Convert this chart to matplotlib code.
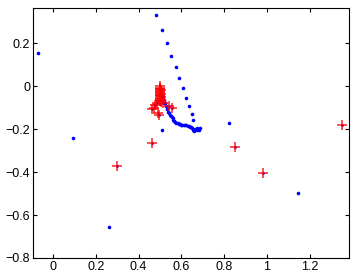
import matplotlib
matplotlib.use("Agg")
import matplotlib.pyplot as plt

# blue dots: scattered points
dots_x = [-0.072, 0.092, 0.263, 1.146, 0.824, 0.508,
          0.480, 0.508, 0.531, 0.553, 0.575, 0.590, 0.607, 0.623, 0.636, 0.648, 0.656]
dots_y = [0.155, -0.243, -0.657, -0.496, -0.172, -0.206,
          0.329, 0.262, 0.199, 0.141, 0.087, 0.036, -0.011, -0.054, -0.093, -0.129, -0.158]

# blue dots: dense curve below the red column
curve_x = [0.515, 0.519, 0.523, 0.528, 0.533, 0.537, 0.542, 0.547, 0.551, 0.555, 0.559,
           0.563, 0.567, 0.570, 0.576, 0.582, 0.588, 0.593, 0.599, 0.605, 0.611, 0.617,
           0.623, 0.629, 0.635, 0.640, 0.645, 0.650, 0.656, 0.664, 0.671, 0.678, 0.685,
           0.673, 0.681, 0.660]
curve_y = [-0.052, -0.065, -0.079, -0.093, -0.107, -0.120, -0.127, -0.133, -0.138, -0.143, -0.150,
           -0.156, -0.161, -0.166, -0.170, -0.173, -0.176, -0.178, -0.179, -0.180, -0.180, -0.181,
           -0.183, -0.185, -0.187, -0.189, -0.192, -0.195, -0.205, -0.200, -0.193, -0.198, -0.194,
           -0.205, -0.203, -0.208]

# red crosses
cross_x = [0.300, 0.464, 0.850, 0.980, 1.352,
           0.461, 0.477, 0.492, 0.497, 0.554, 0.544, 0.516, 0.470, 0.486, 0.505,
           0.502, 0.502, 0.501, 0.502, 0.503, 0.502, 0.501, 0.502, 0.503, 0.502,
           0.501, 0.502, 0.503, 0.502, 0.501, 0.502, 0.503, 0.500, 0.505]
cross_y = [-0.371, -0.264, -0.285, -0.403, -0.181,
           -0.107, -0.090, -0.127, -0.135, -0.104, -0.095, -0.081, -0.100, -0.078, -0.074,
           0.000, -0.008, -0.012, -0.016, -0.020, -0.024, -0.028, -0.032, -0.036, -0.040,
           -0.044, -0.048, -0.052, -0.056, -0.060, -0.064, -0.068, -0.071, -0.066]

fig = plt.figure(figsize=(3.59, 2.77), dpi=100)
ax = fig.add_axes([0.092, 0.0686, 0.880, 0.9025])

ax.plot(dots_x, dots_y, "o", color="#0000ff", markersize=2.6, markeredgewidth=0)
ax.plot(curve_x, curve_y, "o", color="#0000ff", markersize=2.6, markeredgewidth=0)
ax.plot(cross_x, cross_y, "o", color="#0000ff", markersize=2.0, markeredgewidth=0)
ax.plot(cross_x, cross_y, "+", color="#ff0000", alpha=0.75, markersize=7, markeredgewidth=1.3)

ax.set_xlim(-0.093, 1.383)
ax.set_ylim(-0.8, 0.363)
ax.set_xticks([0, 0.2, 0.4, 0.6, 0.8, 1.0, 1.2])
ax.set_xticklabels(["0", "0.2", "0.4", "0.6", "0.8", "1", "1.2"])
ax.set_yticks([-0.8, -0.6, -0.4, -0.2, 0, 0.2])
ax.set_yticklabels(["\u22120.8", "\u22120.6", "\u22120.4", "\u22120.2", "0", "0.2"])
ax.tick_params(direction="in", length=3, width=0.8, top=True, right=True,
               labelsize=9, pad=2)
for lab in ax.get_xticklabels() + ax.get_yticklabels():
    lab.set_fontfamily("Liberation Sans")
for s in ax.spines.values():
    s.set_linewidth(0.8)

fig.savefig("out.png", dpi=100)
